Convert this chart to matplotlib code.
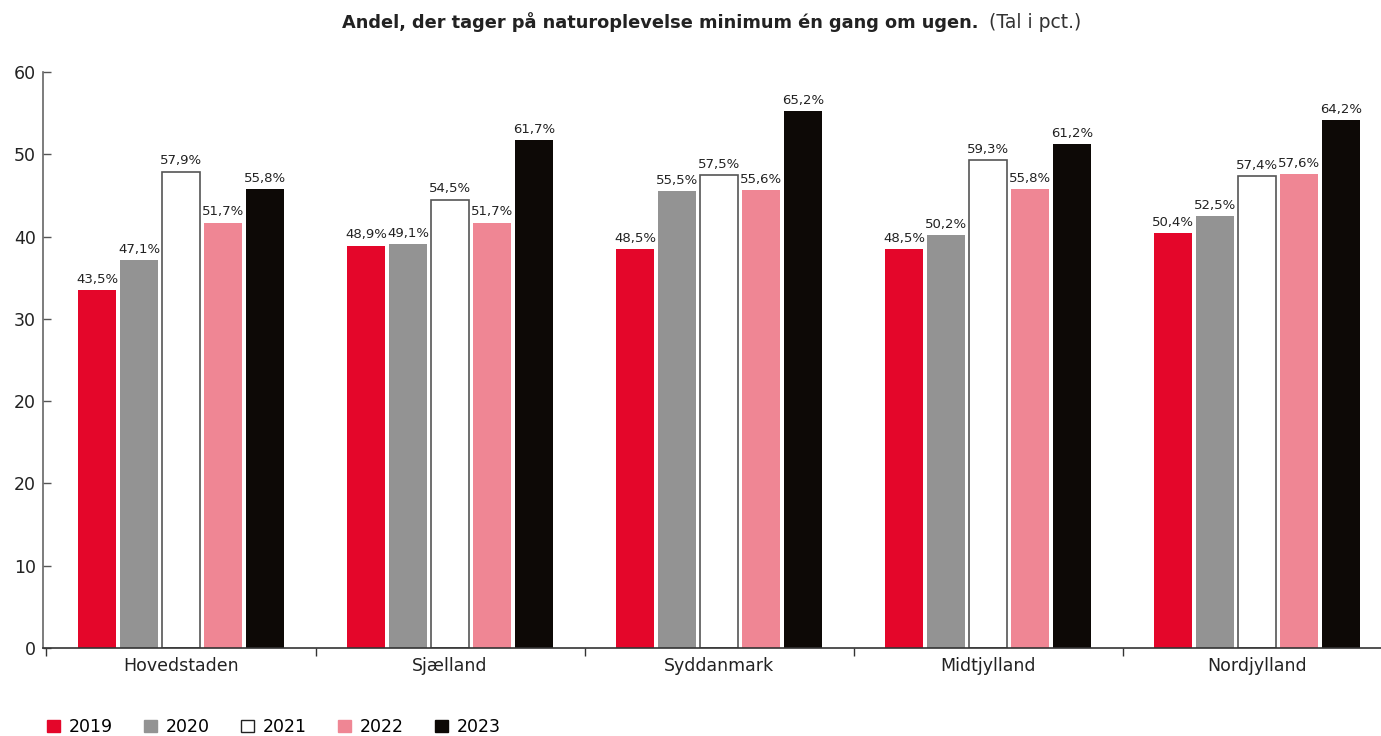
import matplotlib
matplotlib.use("Agg")
import matplotlib.pyplot as plt
from matplotlib.patches import Patch
import numpy as np

regions = ["Hovedstaden", "Sjælland", "Syddanmark", "Midtjylland", "Nordjylland"]
years = ["2019", "2020", "2021", "2022", "2023"]
v2019 = [43.5, 48.9, 48.5, 48.5, 50.4]
v2020 = [47.1, 49.1, 55.5, 50.2, 52.5]
v2021 = [57.9, 54.5, 57.5, 59.3, 57.4]
v2022 = [51.7, 51.7, 55.6, 55.8, 57.6]
v2023 = [55.8, 61.7, 65.2, 61.2, 64.2]
ytick_vals = [0, 10, 20, 30, 40, 50, 60, 70]
ytick_labels = ["0", "10", "20", "20", "30", "40", "50", "60"]

series = [v2019, v2020, v2021, v2022, v2023]
faces = ["#E4062A", "#939393", "#FFFFFF", "#EF8694", "#0D0906"]
edges = ["#E4062A", "#939393", "#555555", "#EF8694", "#0D0906"]

fig = plt.figure(figsize=(13.81, 7.36), dpi=100)
ax = fig.add_axes([43/1381, 88/736, 1 - 43/1381, (648-72)/736])

x = np.arange(len(regions))
pitch = 0.156
width = 0.141
for i, (vals, fc, ec) in enumerate(zip(series, faces, edges)):
    xs = x + (i - 2) * pitch
    lw = 1.2 if fc == "#FFFFFF" else 0
    ax.bar(xs, vals, width=width, color=fc, edgecolor=ec, linewidth=lw, zorder=2)
    for xi, v in zip(xs, vals):
        ax.annotate(f"{v:.1f}".replace(".", ",") + "%", (xi, v), xytext=(0, 3),
                    textcoords="offset points", ha="center", va="bottom",
                    fontsize=9.5, color="#222222")

ax.set_xlim(-0.513, 4.46)
ax.set_ylim(0, 70)
ax.set_yticks(ytick_vals)
ax.set_yticklabels(ytick_labels, fontsize=12.5, color="#222222")
ax.tick_params(axis="y", direction="in", length=6, width=1, color="#555555", pad=5)
ax.set_xticks([-0.5, 0.5, 1.5, 2.5, 3.5])
ax.set_xticklabels([])
ax.tick_params(axis="x", direction="out", length=6, width=1, color="#333333")
for xi, r in zip(x, regions):
    ax.text(xi, -1.1, r, ha="center", va="top", fontsize=12.5, color="#222222",
            transform=ax.transData)
for s in ["top", "right"]:
    ax.spines[s].set_visible(False)
ax.spines["left"].set_color("#666666")
ax.spines["bottom"].set_color("#333333")
ax.spines["left"].set_linewidth(1.2)
ax.spines["bottom"].set_linewidth(1.2)

# title
fig.text(978/1381, 1 - 22/736, "Andel, der tager på naturoplevelse minimum én gang om ugen.",
         ha="right", va="center", fontsize=12.8, fontweight="bold", color="#222222")
fig.text(989/1381, 1 - 22/736, "(Tal i pct.)", ha="left", va="center", fontsize=13.5,
         color="#333333")

handles = [Patch(facecolor=fc, edgecolor=("#222222" if fc == "#FFFFFF" else fc), linewidth=1)
           for fc in faces]
fig.legend(handles, years, loc="center left", bbox_to_anchor=(0.023, 1 - 727/736), ncol=5,
           frameon=False, fontsize=12.5, handlelength=0.75, handleheight=0.75,
           handletextpad=0.5, columnspacing=1.8)

fig.savefig("out.png", dpi=100)
